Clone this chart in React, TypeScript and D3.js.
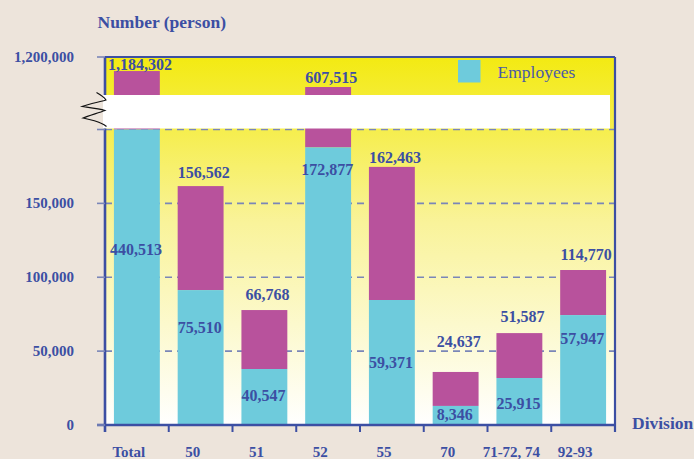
import React from "react";
import * as d3 from "d3";

// ---- data ----
const categories = ["Total", "50", "51", "52", "55", "70", "71-72, 74", "92-93"];
// bar heights as drawn in the picture (axis units)
const totalBar = [1126000, 161700, 77800, 1042000, 174700, 35900, 62200, 104900];
const employeeBar = [200000, 91300, 37900, 187900, 84600, 12900, 31800, 74400];
// printed values
const totalLabels = [1184302, 156562, 66768, 607515, 162463, 24637, 51587, 114770];
const employeeLabels = [440513, 75510, 40547, 172877, 59371, 8346, 25915, 57947];
// where the printed values sit (axis units, baseline)
const totalLabelAt = [1131600, 166900, 84600, 1064700, 177600, 52600, 69900, 111600];
const employeeLabelAt = [115000, 62450, 16240, 169150, 38360, 3380, 10830, 54800];

const yTickValues = [0, 50000, 100000, 150000, 200000, 1200000];
const yTickLabels = ["0", "50,000", "100,000", "150,000", "", "1,200,000"];
const gridValues = [50000, 100000, 150000, 200000];
const breakRange = [200000, 1000000];

const W = 694;
const H = 459;
const L = 105, R = 615, T = 57, B = 425;

const BLUE = "#3c4fa3";
const CYAN = "#6ecbdc";
const MAGENTA = "#b8529c";
const FONT = "'Liberation Serif', 'Times New Roman', serif";

export default function App() {
  const x = d3.scaleBand<string>().domain(categories).range([L, R]).paddingInner(0.28).paddingOuter(0.14);
  const y = d3.scaleLinear().domain([0, breakRange[0], breakRange[1], 1200000]).range([B, 129.5, 95, T]);
  const step = x.step();
  const fmt = d3.format(",");
  const bandTop = y(breakRange[1]);
  const bandBottom = y(breakRange[0]) - 1;

  return (
    <svg width={W} height={H} style={{ position: "absolute", left: 0, top: 0, background: "#ede4db" }} fontFamily={FONT}>
      <defs>
        <linearGradient id="bg" x1="0" y1="0" x2="0" y2="1">
          <stop offset="0%" stopColor="#f3ea12" />
          <stop offset="45%" stopColor="#f9f39a" />
          <stop offset="100%" stopColor="#ffffff" />
        </linearGradient>
      </defs>
      <rect x={0} y={0} width={W} height={H} fill="#ede4db" />
      <rect x={L} y={T} width={R - L} height={B - T} fill="url(#bg)" />

      {/* gridlines */}
      {gridValues.map((v) => (
        <line key={v} x1={L} x2={R} y1={y(v)} y2={y(v)} stroke="#7a86b8" strokeWidth={1.6} strokeDasharray="7,5" />
      ))}

      {/* bars */}
      {categories.map((c, i) => (
        <g key={c}>
          <rect x={x(c)} width={x.bandwidth()} y={y(totalBar[i])} height={y(employeeBar[i]) - y(totalBar[i])} fill={MAGENTA} />
          <rect x={x(c)} width={x.bandwidth()} y={y(employeeBar[i])} height={B - y(employeeBar[i])} fill={CYAN} />
        </g>
      ))}

      {/* break band */}
      <rect x={L - 2} y={bandTop} width={R - L - 3} height={bandBottom - bandTop} fill="#ffffff" />
      <path
        d="M96.5,92.5 C101,95 104,97 106,100 C99,102 88,104 82,106.5 C89,107.5 99,108.5 105,110.5 C98,113 88,116 83,118 C90,119.5 97,121 100.5,123 C103,124 105,125 106.5,126.5"
        fill="none" stroke="#111" strokeWidth={1.1}
      />

      {/* frame & axes */}
      <line x1={L} x2={R} y1={T} y2={T} stroke={BLUE} strokeWidth={2.2} />
      <line x1={R} x2={R} y1={T} y2={B + 7} stroke={BLUE} strokeWidth={2.2} />
      <line x1={L} x2={L} y1={T} y2={bandTop} stroke={BLUE} strokeWidth={2.6} />
      <line x1={L} x2={L} y1={bandBottom} y2={B + 7} stroke={BLUE} strokeWidth={2.6} />
      <line x1={L - 8} x2={R} y1={B} y2={B} stroke={BLUE} strokeWidth={2.4} />
      {d3.range(categories.length + 1).map((i) => (
        <line key={i} x1={L + i * step} x2={L + i * step} y1={B} y2={B + 7} stroke={BLUE} strokeWidth={2} />
      ))}

      {/* y ticks */}
      {yTickValues.map((v, i) => (
        <g key={v}>
          <line x1={L - 8} x2={L} y1={y(v)} y2={y(v)} stroke="#7a86b8" strokeWidth={1.6} />
          {yTickLabels[i] && (
            <text x={74} y={y(v) + 5} textAnchor="end" fontSize={15} fontWeight="bold" fill={BLUE}>
              {yTickLabels[i]}
            </text>
          )}
        </g>
      ))}

      {/* x labels */}
      {categories.map((c) => (
        <text key={c} x={(x(c) as number) + x.bandwidth() / 2 - 8} y={457} textAnchor="middle" fontSize={15} fontWeight="bold" fill={BLUE}>
          {c}
        </text>
      ))}

      {/* value labels */}
      {categories.map((c, i) => (
        <g key={c} fontSize={16} fontWeight="bold" fill={BLUE} textAnchor="middle">
          <text x={(x(c) as number) + x.bandwidth() / 2 + 3} y={y(totalLabelAt[i])}>{fmt(totalLabels[i])}</text>
          <text x={(x(c) as number) + x.bandwidth() / 2 - 1} y={y(employeeLabelAt[i])}>{fmt(employeeLabels[i])}</text>
        </g>
      ))}

      {/* titles */}
      <text x={97.5} y={28} fontSize={17.5} fontWeight="bold" fill={BLUE}>Number (person)</text>
      <text x={632} y={428.5} fontSize={17.5} fontWeight="bold" fill={BLUE}>Division</text>

      {/* legend */}
      <rect x={458} y={60} width={22.5} height={22.5} fill={CYAN} />
      <text x={497.5} y={77.5} fontSize={17.5} fill="#4a5aa8">Employees</text>
    </svg>
  );
}
